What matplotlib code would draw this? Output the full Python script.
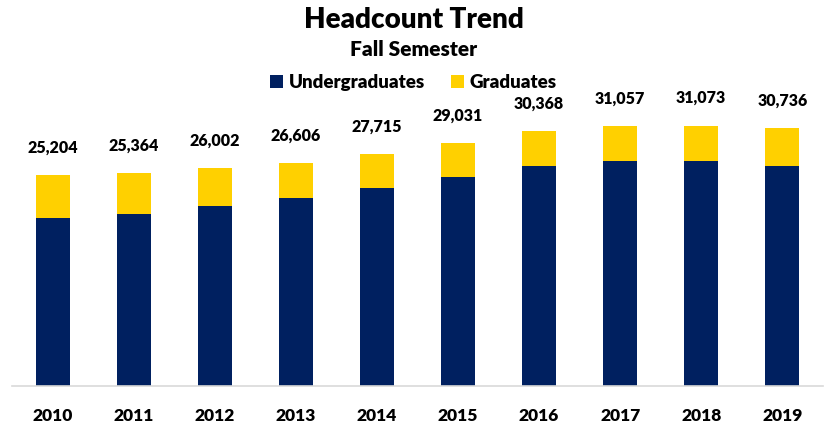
import numpy as np
import matplotlib.pyplot as plt

plt.rcParams['font.family'] = ['Lato', 'DejaVu Sans']

# Данные
years = ['2010', '2011', '2012', '2013', '2014', '2015', '2016', '2017', '2018', '2019']
totals = [25204, 25364, 26002, 26606, 27715, 29031, 30368, 31057, 31073, 30736]
undergrads = [20040, 20520, 21510, 22430, 23660, 24900, 26280, 26880, 26880, 26280]
grads = [t - u for t, u in zip(totals, undergrads)]

navy = '#002060'
gold = '#FFD000'

fig = plt.figure(figsize=(8.27, 4.25), dpi=100)
ax = fig.add_axes([0.0145, 0.092, 0.9805, 0.69])

x = np.arange(len(years))
ax.bar(x, undergrads, width=0.42, color=navy, label='Undergraduates')
ax.bar(x, grads, width=0.42, bottom=undergrads, color=gold, label='Graduates')

for xi, t in zip(x, totals):
    ax.annotate(f'{t:,}', (xi, t), xytext=(0, 14), textcoords='offset points',
                ha='center', va='bottom', fontsize=11.5, fontweight='heavy')

ax.set_xlim(-0.5, len(years) - 0.5)
ax.set_ylim(0, 35000)
ax.set_xticks(x)
ax.set_xticklabels(years, fontsize=12.5, fontweight='heavy')
ax.tick_params(axis='x', length=0, pad=16)
ax.set_yticks([])
for s in ['top', 'right', 'left']:
    ax.spines[s].set_visible(False)
ax.spines['bottom'].set_color('#d9d9d9')
ax.spines['bottom'].set_linewidth(1.2)

fig.text(0.5, 0.953, 'Headcount Trend', ha='center', va='center', fontsize=20, fontweight='heavy')
fig.text(0.5, 0.884, 'Fall Semester', ha='center', va='center', fontsize=15, fontweight='heavy')
fig.legend(loc='center', bbox_to_anchor=(0.5, 0.805), ncol=2, frameon=False,
           prop={'size': 13.5, 'weight': 'heavy'}, handlelength=0.7, handleheight=0.7,
           handletextpad=0.3, columnspacing=1.4)

fig.savefig('out.png', dpi=100)
